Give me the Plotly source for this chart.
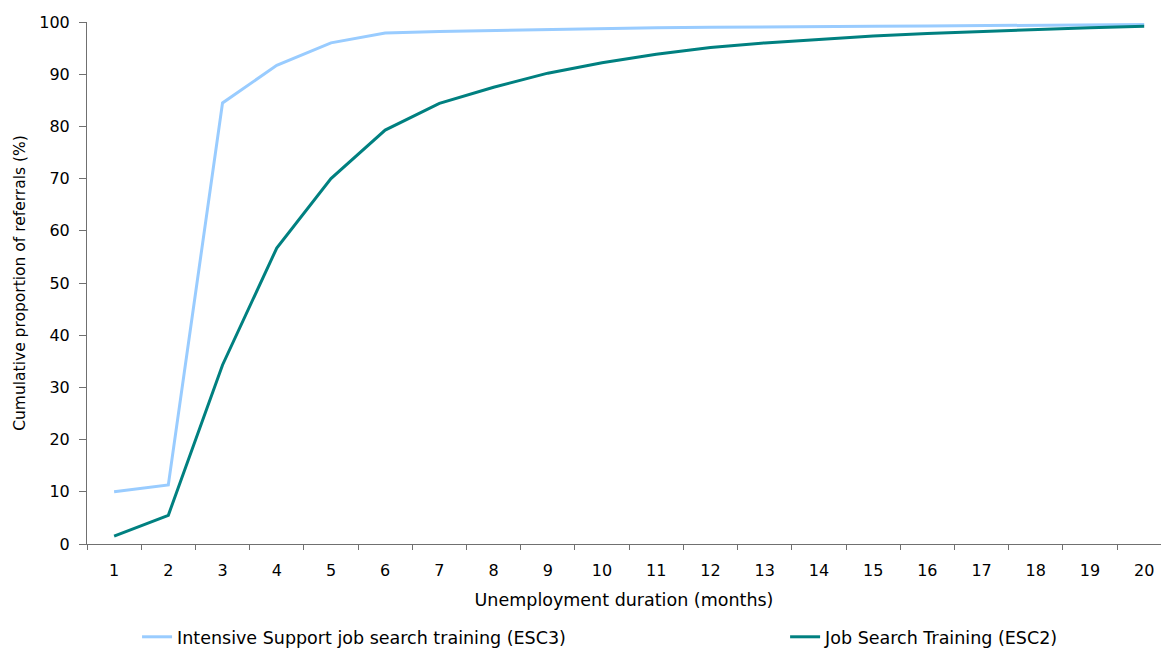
import plotly.graph_objects as go

# Unemployment duration in months (category labels on the x axis)
months = [str(m) for m in range(1, 21)]

# Cumulative proportion of referrals (%) by unemployment duration
esc3_intensive = [10.0, 11.3, 84.5, 91.7, 96.0, 97.9, 98.2, 98.4, 98.6, 98.8,
                  98.9, 99.0, 99.1, 99.15, 99.2, 99.25, 99.3, 99.35, 99.4, 99.5]
esc2_jobsearch = [1.5, 5.5, 34.3, 56.7, 70.0, 79.3, 84.4, 87.5, 90.2, 92.2,
                  93.8, 95.1, 96.0, 96.7, 97.3, 97.8, 98.2, 98.6, 98.9, 99.2]

y_ticks = [0, 10, 20, 30, 40, 50, 60, 70, 80, 90, 100]

FONT = "DejaVu Sans, Arial, sans-serif"
AXIS_GREY = "#707070"
TICK_SIZE = 16
TITLE_SIZE = 17.5
YTITLE_SIZE = 15.5

fig = go.Figure()
fig.add_trace(go.Scatter(
    x=months, y=esc3_intensive, mode="lines",
    name="Intensive Support job search training (ESC3)",
    line=dict(color="#99CCFF", width=3),
    legend="legend",
))
fig.add_trace(go.Scatter(
    x=months, y=esc2_jobsearch, mode="lines",
    name="Job Search Training (ESC2)",
    line=dict(color="#008080", width=3),
    legend="legend2",
))

legend_style = dict(
    orientation="h", xanchor="left", yanchor="middle",
    font=dict(family=FONT, size=TITLE_SIZE, color="#000000"),
    bgcolor="rgba(0,0,0,0)", itemwidth=30,
)

fig.update_layout(
    width=1161, height=655,
    margin=dict(l=87, r=0, t=22, b=105),
    paper_bgcolor="white", plot_bgcolor="white",
    font=dict(family=FONT, size=TICK_SIZE, color="#000000"),
    showlegend=True,
    legend=dict(x=0.0466, y=-0.178, **legend_style),
    legend2=dict(x=0.650, y=-0.178, **legend_style),
    xaxis=dict(
        type="category", range=[-0.5, 19.31],
        tickson="boundaries", ticks="outside", ticklen=5, tickcolor=AXIS_GREY,
        ticklabelstandoff=12,
        showline=True, linecolor=AXIS_GREY, linewidth=1,
        showgrid=False, zeroline=False,
        tickfont=dict(family=FONT, size=TICK_SIZE),
        title=dict(text="Unemployment duration (months)",
                   font=dict(family=FONT, size=TITLE_SIZE), standoff=14),
    ),
    yaxis=dict(
        range=[0, 100], tickvals=y_ticks,
        ticks="outside", ticklen=7, tickcolor=AXIS_GREY,
        ticklabelstandoff=6,
        showline=True, linecolor=AXIS_GREY, linewidth=1,
        showgrid=False, zeroline=False,
        tickfont=dict(family=FONT, size=TICK_SIZE),
        title=dict(text="Cumulative proportion of referrals (%)",
                   font=dict(family=FONT, size=YTITLE_SIZE), standoff=9),
    ),
)

fig.write_html("out.html")
